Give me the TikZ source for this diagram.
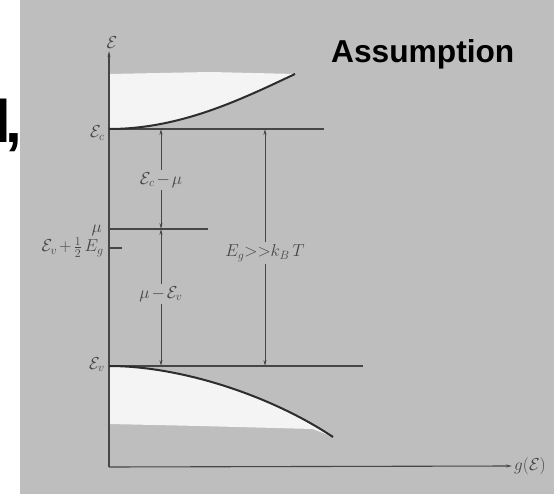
\documentclass[tikz,border=0pt]{standalone}
\usepackage{amsmath}
\usepackage{fontspec}
\newfontfamily\slidefont{Liberation Sans}
\usetikzlibrary{arrows.meta,positioning,calc}
\definecolor{scangrey}{RGB}{190,190,190}
\definecolor{bandwhite}{RGB}{244,244,244}
\definecolor{inkgrey}{RGB}{70,70,70}
\definecolor{curvegrey}{RGB}{45,45,45}

\begin{document}
\begin{tikzpicture}[
  x=1pt, y=-1pt,
  >={Stealth[length=6pt,width=3pt]},
  lbl/.style={text=inkgrey, font=\fontsize{18}{20}\selectfont, inner sep=2pt},
  level/.style={draw=inkgrey, line width=1.1pt},
  gapbar/.style={draw=inkgrey, line width=0.8pt},
  dos/.style={draw=curvegrey, line width=2pt},
  slide/.style={font=\slidefont\bfseries, inner sep=0pt, anchor=base west},
]
\useasboundingbox (0,0) rectangle (554,494);

% white slide margin, grey scan
\fill[white] (0,0) rectangle (554,494);
\fill[scangrey] (20,0) rectangle (554,494);

% origin and band levels on the energy axis
\coordinate (O)   at (109,467);
\coordinate (Ec)  at (109,129);
\coordinate (mu)  at (109,229);
\coordinate (mid) at (109,248);
\coordinate (Ev)  at (109,366);

% empty conduction band and filled valence band
\fill[bandwhite] (Ec) .. controls (180,129) and (240,100) .. (295,74)
  -- (210,72) -- (109,74) -- cycle;
\fill[bandwhite] (Ev) .. controls (180,366) and (270,395) .. (333,437)
  -- (313,429) -- (200,426) -- (109,424) -- cycle;

% axes
\node[lbl, anchor=south] (Eaxis) at (112,51) {$\mathcal{E}$};
\node[lbl, anchor=west]  (gE)    at (512,466) {$g(\mathcal{E})$};
\draw[->, inkgrey, line width=1.1pt] (O) -- (O |- Eaxis.south);
\draw[->, inkgrey, line width=1.1pt] (O) -- (gE.west);

% level lines
\draw[level] (Ec)  -- (324,129);
\draw[level] (mu)  -- (208,229);
\draw[level] (mid) -- (122,248);
\draw[level] (Ev)  -- (363,366);

% density of states
\draw[dos] (Ec) .. controls (180,129) and (240,100) .. (295,74);
\draw[dos] (Ev) .. controls (180,366) and (270,395) .. (333,437);

% level labels
\node[lbl, anchor=base east] (Eclab)  at (107,138) {$\mathcal{E}_c$};
\node[lbl, anchor=base east] (mulab)  at (104,233) {$\mu$};
\node[lbl, anchor=base east] (midlab) at (106,252) {$\mathcal{E}_v\mkern2mu{+}\mkern2mu\frac{1}{2}\,E_g$};
\node[lbl, anchor=base east] (Evlab)  at (107,369) {$\mathcal{E}_v$};

% distances between the levels
\node[lbl] (d1) at (161,180) {$\mathcal{E}_c\mkern2mu{-}\mkern2mu\mu$};
\draw[->, gapbar] (d1) -- (d1 |- Ec);
\draw[->, gapbar] (d1) -- (d1 |- mu);
\node[lbl] (d2) at (161,294) {$\mu\mkern2mu{-}\mkern2mu\mathcal{E}_v$};
\draw[->, gapbar] (d2) -- (d2 |- mu);
\draw[->, gapbar] (d2) -- (d2 |- Ev);
\node[lbl] (d3) at (265,253) {$E_g{>}{>}k_B\,T$};
\draw[->, gapbar] (d3) -- (d3 |- Ec);
\draw[->, gapbar] (d3) -- (d3 |- Ev);

% slide text
\node[slide, font=\slidefont\bfseries\fontsize{31.7}{36}\selectfont] (assume) at (331,63) {Assumption};
\node[slide, font=\slidefont\bfseries\fontsize{60}{66}\selectfont] (cut) at (-6,143) {l\kern-5pt,};

\end{tikzpicture}
\end{document}
